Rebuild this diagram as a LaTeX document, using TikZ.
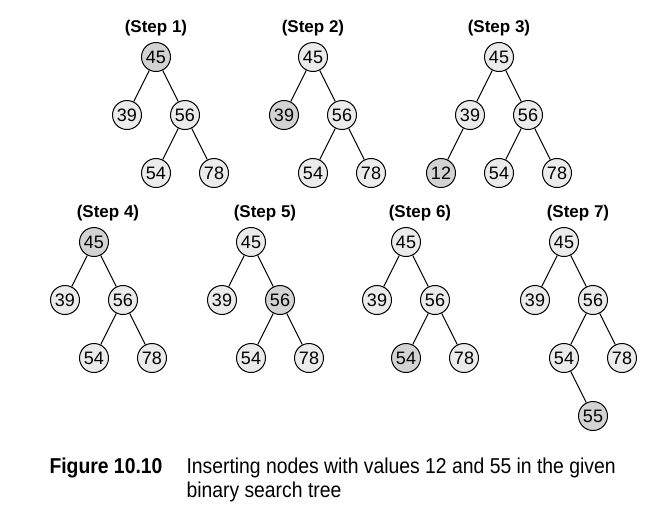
\documentclass[tikz,border=0pt]{standalone}
\usepackage{fontspec}
\setmainfont{Liberation Sans}
\newfontfamily\capfont[FakeStretch=0.9]{Liberation Sans}
\definecolor{lt}{HTML}{EBEBEB}
\definecolor{dk}{HTML}{D3D3D3}

\begin{document}
\begin{tikzpicture}[x=1pt, y=-1pt, line width=1pt,
    bst/.style={circle, draw, minimum size=29pt, inner sep=0pt, font=\fontsize{18}{20}\selectfont},
    steplabel/.style={font=\bfseries\fontsize{17}{20}\selectfont}]
        \useasboundingbox (0, 0) rectangle (645, 515);
        % one tree per step: number, root position, title shift, fills of 45, 39, 56, 54, 78
        \foreach \s/\x/\y/\t/\fa/\fb/\fc/\fd/\fe in {1/156/57/0/dk/lt/lt/lt/lt, 2/313/57/0/lt/dk/lt/lt/lt, 3/499/57/0/lt/lt/lt/lt/lt, 4/94/242/14/dk/lt/lt/lt/lt, 5/251/242/14/lt/lt/dk/lt/lt, 6/406/242/14/lt/lt/lt/dk/lt, 7/564/242/14/lt/lt/lt/lt/lt}
        {
            \node[steplabel] (title\s) at ({\x+\t}, {\y-29}) {(Step \s)};
            \node[bst, fill=\fa] (root\s) at (\x, \y) {45};
            \node[bst, fill=\fb] (left\s) at ({\x-29}, {\y+58}) {39};
            \node[bst, fill=\fc] (right\s) at ({\x+29}, {\y+58}) {56};
            \node[bst, fill=\fd] (rleft\s) at (\x, {\y+116}) {54};
            \node[bst, fill=\fe] (rright\s) at ({\x+58}, {\y+116}) {78};
            \draw (root\s) -- (left\s);
            \draw (root\s) -- (right\s);
            \draw (right\s) -- (rleft\s);
            \draw (right\s) -- (rright\s);
        }
        % the inserted nodes
        \node[bst, fill=dk] (lleft3) at (441, 173) {12};
        \draw (left3) -- (lleft3);
        \node[bst, fill=dk] (rlright7) at (593, 416) {55};
        \draw (rleft7) -- (rlright7);
        % caption
        \node[anchor=base west, inner sep=0pt, font=\capfont\bfseries\fontsize{21.5}{24}\selectfont] (fignum) at (49, 473) {Figure 10.10};
        \node[anchor=base west, inner sep=0pt, font=\capfont\fontsize{21.5}{24}\selectfont] (capline1) at (186, 473) {Inserting nodes with values 12 and 55 in the given};
        \node[anchor=base west, inner sep=0pt, font=\capfont\fontsize{21.5}{24}\selectfont] (capline2) at (186, 497) {binary search tree};
    \end{tikzpicture}
\end{document}
